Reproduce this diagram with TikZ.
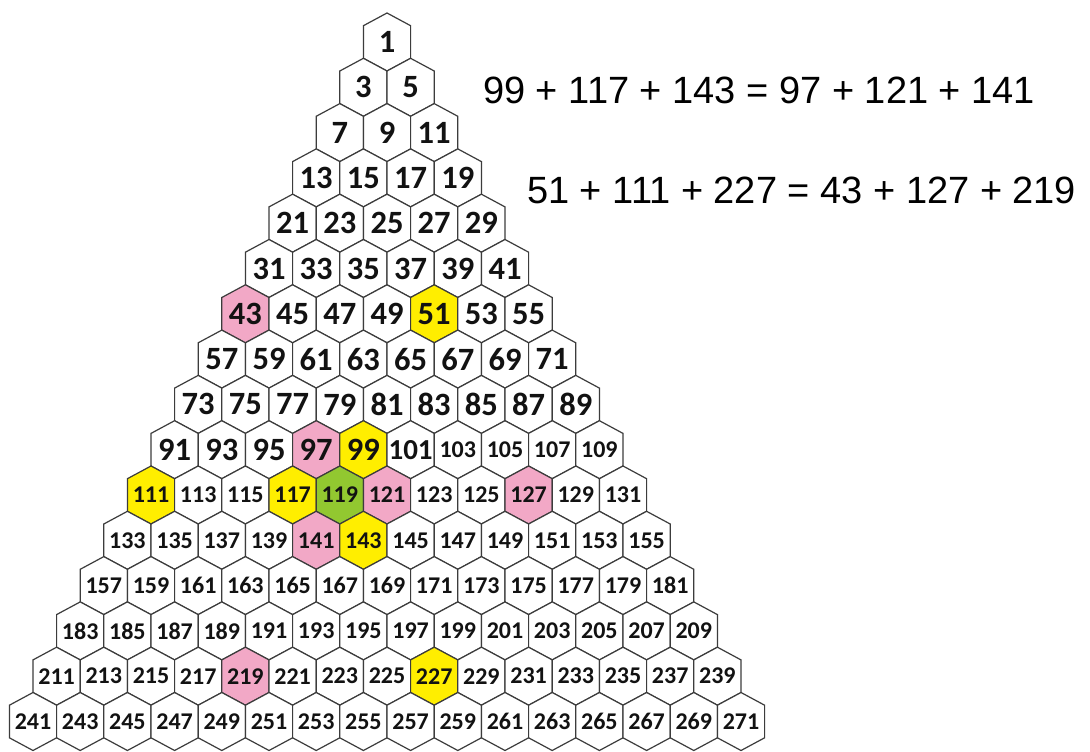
\documentclass[tikz,border=0pt]{standalone}
\usepackage{fontspec}
\setmainfont{Liberation Sans}
\newfontfamily\numfont{Carlito}
\definecolor{pinkH}{RGB}{242,168,198}
\definecolor{yellowH}{RGB}{255,238,0}
\definecolor{greenH}{RGB}{146,200,48}
\definecolor{edgeC}{RGB}{60,60,60}
\definecolor{txtC}{RGB}{18,18,18}
\expandafter\def\csname hl43\endcsname{pinkH}
\expandafter\def\csname hl97\endcsname{pinkH}
\expandafter\def\csname hl121\endcsname{pinkH}
\expandafter\def\csname hl127\endcsname{pinkH}
\expandafter\def\csname hl141\endcsname{pinkH}
\expandafter\def\csname hl219\endcsname{pinkH}
\expandafter\def\csname hl51\endcsname{yellowH}
\expandafter\def\csname hl99\endcsname{yellowH}
\expandafter\def\csname hl111\endcsname{yellowH}
\expandafter\def\csname hl117\endcsname{yellowH}
\expandafter\def\csname hl143\endcsname{yellowH}
\expandafter\def\csname hl227\endcsname{yellowH}
\expandafter\def\csname hl119\endcsname{greenH}
\tikzset{
  hexcell/.style={draw=edgeC, line width=1.2pt, line join=miter},
  numbig/.style={font=\numfont\bfseries\fontsize{32.5}{33}\selectfont, text=txtC, inner sep=0pt},
  nummid/.style={font=\numfont\bfseries\fontsize{29}{29}\selectfont, text=txtC, inner sep=0pt},
  numsmall/.style={font=\numfont\bfseries\fontsize{24}{24}\selectfont, text=txtC, inner sep=0pt},
  eqtext/.style={font=\fontsize{38}{40}\selectfont, text=black, anchor=west, inner sep=0pt}
}
\begin{document}
\begin{tikzpicture}[x=1pt,y=-1pt]
\useasboundingbox[fill=white] (0,0) rectangle (1090,752);
\foreach \r in {1,...,16}{
  \foreach \k in {1,...,\r}{
    \pgfmathtruncatemacro\n{\r*(\r-1)+2*\k-1}
    \pgfmathsetmacro\cx{387+(\k-1-(\r-1)/2)*47.2}
    \pgfmathsetmacro\cy{42+(\r-1)*45.3}
    \ifcsname hl\n\endcsname \edef\fc{\csname hl\n\endcsname}\else \def\fc{white}\fi
    \coordinate (c\n) at (\cx,\cy);
    \filldraw[hexcell, fill=\fc] (c\n) +(0,-29) -- +(23.6,-16.3) -- +(23.6,16.3) -- +(0,29) -- +(-23.6,16.3) -- +(-23.6,-16.3) -- cycle;
    \ifnum\n<100 \def\st{numbig}\else\ifnum\n=101 \def\st{nummid}\else\def\st{numsmall}\fi\fi
    \node[\st] (h\n) at (c\n) {\n};
  }
}
\node[eqtext] (eqA) at (483,90) {99 + 117 + 143 = 97 + 121 + 141};
\node[eqtext] (eqB) at (527,190) {51 + 111 + 227 = 43 + 127 + 219};
\end{tikzpicture}
\end{document}
